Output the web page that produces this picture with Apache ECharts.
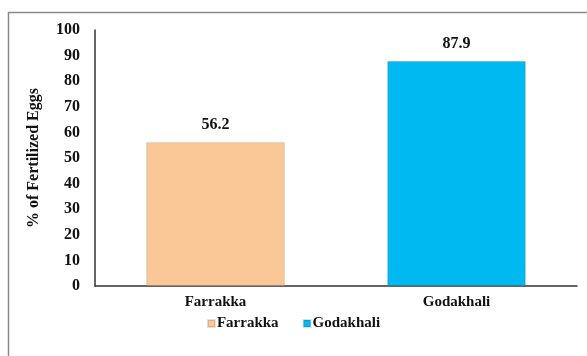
<!DOCTYPE html>
<html><head><meta charset="utf-8">
<script src="https://cdn.jsdelivr.net/npm/echarts@6/dist/echarts.min.js"></script>
<style>html,body{margin:0;padding:0;background:#fff}#c{width:587px;height:356px}</style>
</head><body><div id="c"></div>
<script>
var categories = ['Farrakka', 'Godakhali'];
var values = [56.2, 87.9];
var colors = ['#FAC897', '#00B9F1'];
var yTicks = [0, 10, 20, 30, 40, 50, 60, 70, 80, 90, 100];

var chart = echarts.init(document.getElementById('c'));
var font = '"Liberation Serif", "Times New Roman", serif';
var series = categories.map(function (name, i) {
  var d = categories.map(function (c, j) { return j === i ? values[i] : '-'; });
  return {
    name: name, type: 'bar', stack: 'one', data: d, barWidth: '57.5%',
    itemStyle: { color: colors[i], borderColor: 'rgba(0,0,0,0.12)', borderWidth: 1 },
    label: { show: true, position: 'top', distance: 9, fontFamily: font, fontWeight: 'bold', fontSize: 16, color: '#111' }
  };
});
chart.setOption({
  animation: false,
  graphic: [{ type: 'rect', shape: { x: 8.5, y: 12.5, width: 600, height: 400 }, style: { fill: 'none', stroke: '#8a8a8a', lineWidth: 1.5 }, z: -1 }],
  grid: { left: 95, right: 10, top: 30, bottom: 70 },
  legend: {
    data: categories, bottom: 20, left: 'center', itemWidth: 7, itemHeight: 7, itemGap: 24,
    icon: 'rect', textStyle: { fontFamily: font, fontWeight: 'bold', fontSize: 15, color: '#111', padding: [0, 0, 0, -3] }
  },
  xAxis: {
    type: 'category', data: categories,
    axisLine: { lineStyle: { color: '#333', width: 1.5 } }, axisTick: { show: false },
    axisLabel: { fontFamily: font, fontWeight: 'bold', fontSize: 15, color: '#111', margin: 9 }
  },
  yAxis: {
    type: 'value', min: yTicks[0], max: yTicks[yTicks.length - 1], interval: 10,
    name: '% of Fertilized Eggs', nameLocation: 'middle', nameGap: 53, nameRotate: 90,
    nameTextStyle: { fontFamily: font, fontWeight: 'bold', fontSize: 16, color: '#111' },
    axisLine: { show: true, lineStyle: { color: '#333', width: 1.5 } }, axisTick: { show: false },
    splitLine: { show: false },
    axisLabel: { fontFamily: font, fontWeight: 'bold', fontSize: 16, color: '#111', margin: 15 }
  },
  series: series
});
</script></body></html>
